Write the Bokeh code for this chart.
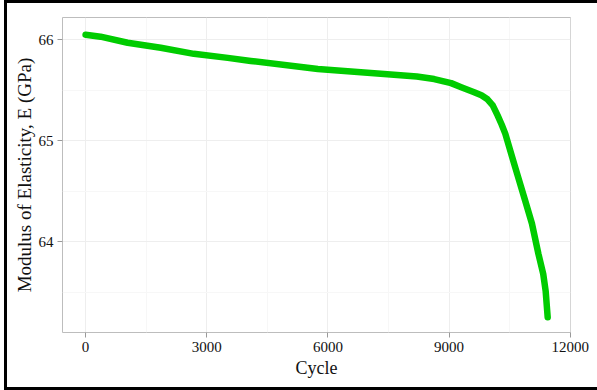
from bokeh.plotting import figure
from bokeh.models import Range1d, FixedTicker, InlineStyleSheet
from bokeh.embed import file_html
from bokeh.resources import INLINE

# Data
cycle = [0, 370, 1040, 1860, 2680, 3520, 4090, 5750, 7390, 8200, 8630, 9050, 9300,
         9620, 9800, 9950, 10080, 10200, 10300, 10390, 10640, 10880, 11050,
         11210, 11330, 11390, 11440]
modulus = [66.05, 66.03, 65.97, 65.92, 65.86, 65.82, 65.79, 65.71, 65.66, 65.635, 65.61, 65.57, 65.53,
           65.48, 65.45, 65.41, 65.35, 65.25, 65.16, 65.07, 64.73, 64.41, 64.18,
           63.88, 63.68, 63.51, 63.25]

x_ticks = [0, 3000, 6000, 9000, 12000]
x_minor = [1500, 4500, 7500, 10500]
y_ticks = [64, 65, 66]
y_minor = [63.5, 64.5, 65.5]

FONT = "Liberation Serif"

p = figure(width=597, height=390, output_backend="svg", toolbar_location=None,
           x_range=Range1d(-572, 12005), y_range=Range1d(63.10, 66.22),
           min_border_left=62, min_border_right=27, min_border_top=17, min_border_bottom=58)

p.line(cycle, modulus, line_color="#00CC00", line_width=6.5,
       line_cap="round", line_join="round")

p.xaxis.ticker = FixedTicker(ticks=x_ticks, minor_ticks=x_minor)
p.yaxis.ticker = FixedTicker(ticks=y_ticks, minor_ticks=y_minor)

for g in (p.xgrid, p.ygrid):
    g.grid_line_color = "#EEEEEE"
    g.grid_line_width = 1
    g.minor_grid_line_color = "#F7F7F7"
    g.minor_grid_line_width = 1

p.outline_line_color = "#BDBDBD"
p.outline_line_width = 1
p.background_fill_color = "white"
p.border_fill_color = "white"

for ax in (p.xaxis, p.yaxis):
    ax.axis_line_color = None
    ax.major_tick_out = 5
    ax.major_tick_in = 0
    ax.major_tick_line_color = "#999999"
    ax.minor_tick_line_color = None
    ax.major_label_text_font = FONT
    ax.major_label_text_font_size = "15px"
    ax.major_label_text_color = "#111111"
    ax.major_label_standoff = 4
    ax.axis_label_text_font = FONT
    ax.axis_label_text_font_style = "normal"
    ax.axis_label_text_color = "#111111"

p.xaxis.axis_label = "Cycle"
p.yaxis.axis_label = "Modulus of Elasticity, E (GPa)"
p.xaxis.axis_label_text_font_size = "18px"
p.yaxis.axis_label_text_font_size = "19px"
p.xaxis.axis_label_standoff = 3
p.yaxis.axis_label_standoff = 1

# outer black frame of the picture (left, top, bottom only) drawn as overlays
p.stylesheets = [InlineStyleSheet(css="""
:host { position: relative; }
:host::before {
  content: "";
  position: absolute;
  left: 4px; top: 0px; width: 3px; height: 390px;
  background: black;
  pointer-events: none;
  z-index: 100;
}
:host::after {
  content: "";
  position: absolute;
  left: 4px; top: 0px; width: 593px; height: 3px;
  background: black;
  box-shadow: 0px 387px 0px 0px black;
  pointer-events: none;
  z-index: 100;
}
""")]

open("out.html", "w").write(file_html(p, INLINE))
